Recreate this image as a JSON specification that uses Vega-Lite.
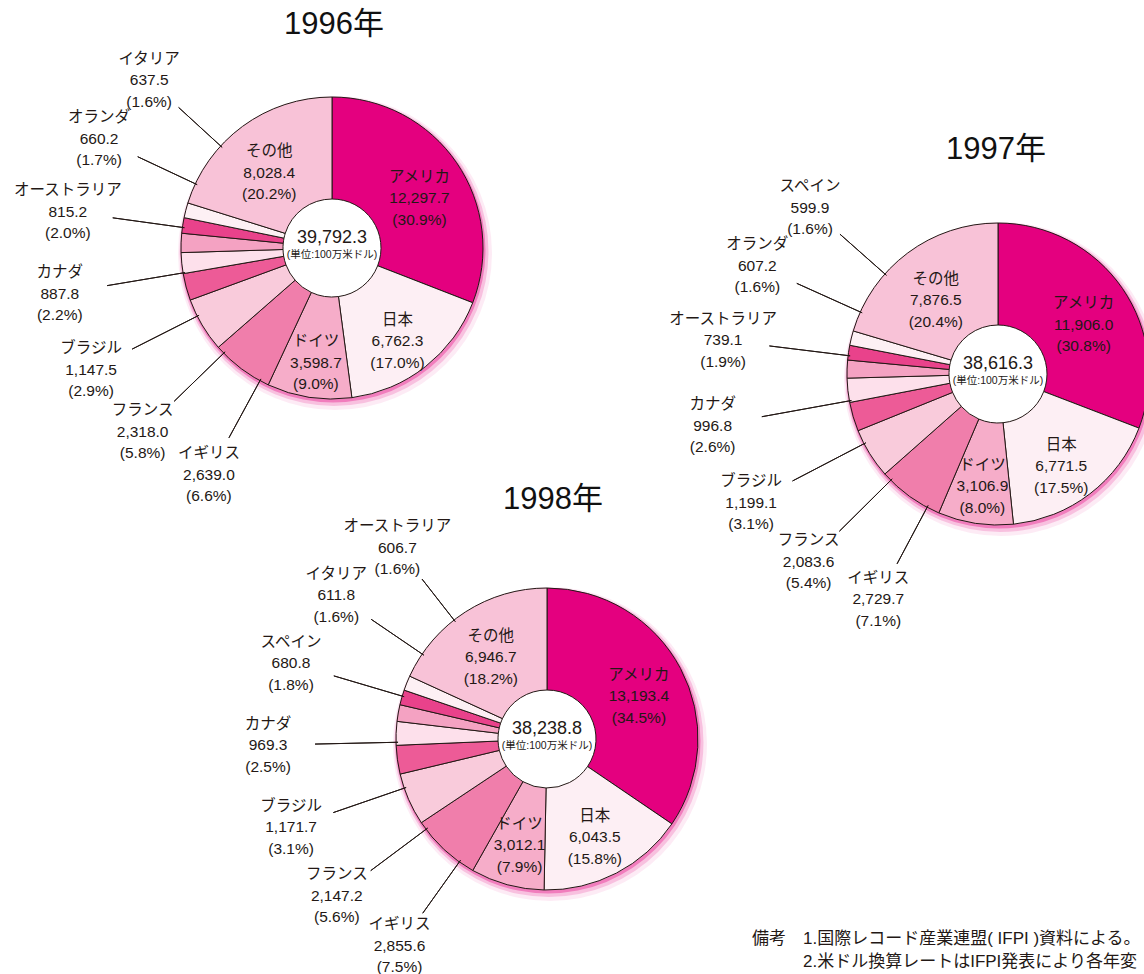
{
  "$schema": "https://vega.github.io/schema/vega-lite/v6.json",
  "width": 1144,
  "height": 974,
  "padding": 0,
  "autosize": {"type": "fit", "contains": "padding"},
  "background": "white",
  "config": {"view": {"stroke": null}},
  "datasets": {
    "shares": [
      {"year": 1996, "country": "アメリカ", "value": 12297.7, "share": 30.9},
      {"year": 1996, "country": "日本", "value": 6762.3, "share": 17.0},
      {"year": 1996, "country": "ドイツ", "value": 3598.7, "share": 9.0},
      {"year": 1996, "country": "イギリス", "value": 2639.0, "share": 6.6},
      {"year": 1996, "country": "フランス", "value": 2318.0, "share": 5.8},
      {"year": 1996, "country": "ブラジル", "value": 1147.5, "share": 2.9},
      {"year": 1996, "country": "カナダ", "value": 887.8, "share": 2.2},
      {"year": 1996, "country": "オーストラリア", "value": 815.2, "share": 2.0},
      {"year": 1996, "country": "オランダ", "value": 660.2, "share": 1.7},
      {"year": 1996, "country": "イタリア", "value": 637.5, "share": 1.6},
      {"year": 1996, "country": "その他", "value": 8028.4, "share": 20.2},
      {"year": 1997, "country": "アメリカ", "value": 11906.0, "share": 30.8},
      {"year": 1997, "country": "日本", "value": 6771.5, "share": 17.5},
      {"year": 1997, "country": "ドイツ", "value": 3106.9, "share": 8.0},
      {"year": 1997, "country": "イギリス", "value": 2729.7, "share": 7.1},
      {"year": 1997, "country": "フランス", "value": 2083.6, "share": 5.4},
      {"year": 1997, "country": "ブラジル", "value": 1199.1, "share": 3.1},
      {"year": 1997, "country": "カナダ", "value": 996.8, "share": 2.6},
      {"year": 1997, "country": "オーストラリア", "value": 739.1, "share": 1.9},
      {"year": 1997, "country": "オランダ", "value": 607.2, "share": 1.6},
      {"year": 1997, "country": "スペイン", "value": 599.9, "share": 1.6},
      {"year": 1997, "country": "その他", "value": 7876.5, "share": 20.4},
      {"year": 1998, "country": "アメリカ", "value": 13193.4, "share": 34.5},
      {"year": 1998, "country": "日本", "value": 6043.5, "share": 15.8},
      {"year": 1998, "country": "ドイツ", "value": 3012.1, "share": 7.9},
      {"year": 1998, "country": "イギリス", "value": 2855.6, "share": 7.5},
      {"year": 1998, "country": "フランス", "value": 2147.2, "share": 5.6},
      {"year": 1998, "country": "ブラジル", "value": 1171.7, "share": 3.1},
      {"year": 1998, "country": "カナダ", "value": 969.3, "share": 2.5},
      {"year": 1998, "country": "スペイン", "value": 680.8, "share": 1.8},
      {"year": 1998, "country": "イタリア", "value": 611.8, "share": 1.6},
      {"year": 1998, "country": "オーストラリア", "value": 606.7, "share": 1.6},
      {"year": 1998, "country": "その他", "value": 6946.7, "share": 18.2}
    ],
    "years": [
      {"year": 1996, "title": "1996年", "total": 39792.3},
      {"year": 1997, "title": "1997年", "total": 38616.3},
      {"year": 1998, "title": "1998年", "total": 38238.8}
    ],
    "notes": [
      {"line": 1, "col": 1, "text": "備考"},
      {"line": 1, "col": 2, "text": "1.国際レコード産業連盟( IFPI )資料による。"},
      {"line": 2, "col": 2, "text": "2.米ドル換算レートはIFPI発表により各年変"}
    ]
  },
  "resolve": {"scale": {"x": "independent", "y": "independent", "theta": "independent", "radius": "independent"}},
  "layer": [
    {
      "data": {"name": "years"},
      "mark": {"type": "arc", "theta": 0, "theta2": 6.2832, "radius": 157, "radius2": 120, "xOffset": 3, "yOffset": 5, "fill": "#e4007f", "opacity": 0.08},
      "encoding": {
        "x": {"field": "year", "type": "quantitative", "axis": null, "scale": {"domain": [1996, 1997, 1998], "range": [332, 998, 547], "zero": false, "nice": false}},
        "y": {"field": "year", "type": "quantitative", "axis": null, "scale": {"domain": [1996, 1997, 1998], "range": [248, 374, 739], "zero": false, "nice": false}}
      }
    },
    {
      "data": {"name": "years"},
      "mark": {"type": "arc", "theta": 0, "theta2": 6.2832, "radius": 154.5, "radius2": 120, "xOffset": 2, "yOffset": 3.5, "fill": "#e4007f", "opacity": 0.18},
      "encoding": {
        "x": {"field": "year", "type": "quantitative", "axis": null, "scale": {"domain": [1996, 1997, 1998], "range": [332, 998, 547], "zero": false, "nice": false}},
        "y": {"field": "year", "type": "quantitative", "axis": null, "scale": {"domain": [1996, 1997, 1998], "range": [248, 374, 739], "zero": false, "nice": false}}
      }
    },
    {
      "data": {"name": "years"},
      "mark": {"type": "arc", "theta": 0, "theta2": 6.2832, "radius": 152.5, "radius2": 120, "xOffset": 1, "yOffset": 2, "fill": "#e4007f", "opacity": 0.35},
      "encoding": {
        "x": {"field": "year", "type": "quantitative", "axis": null, "scale": {"domain": [1996, 1997, 1998], "range": [332, 998, 547], "zero": false, "nice": false}},
        "y": {"field": "year", "type": "quantitative", "axis": null, "scale": {"domain": [1996, 1997, 1998], "range": [248, 374, 739], "zero": false, "nice": false}}
      }
    },

    {
      "data": {"name": "shares"},
      "transform": [{"filter": {"field": "year", "equal": 1996}}, {"window": [{"op": "row_number", "as": "rank"}]}],
      "mark": {"type": "arc", "radius": 151, "radius2": 49, "stroke": "#231815", "strokeWidth": 1},
      "encoding": {
        "x": {"field": "year", "type": "quantitative", "axis": null, "scale": {"domain": [1996, 1997, 1998], "range": [332, 998, 547], "zero": false, "nice": false}},
        "y": {"field": "year", "type": "quantitative", "axis": null, "scale": {"domain": [1996, 1997, 1998], "range": [248, 374, 739], "zero": false, "nice": false}},
        "theta": {"field": "value", "type": "quantitative", "stack": "normalize"},
        "order": {"field": "rank", "type": "quantitative"},
        "fill": {"field": "rank", "type": "ordinal", "legend": null, "scale": {"domain": [1,2,3,4,5,6,7,8,9,10,11], "range": ["#e4007f","#fdeff4","#f6adc9","#f07eab","#f9cbdb","#ed5b97","#fde0eb","#f4a2c2","#e9428b","#fdf0f4","#f8c2d7"]}}
      }
    },
    {
      "data": {"name": "shares"},
      "transform": [{"filter": {"field": "year", "equal": 1997}}, {"window": [{"op": "row_number", "as": "rank"}]}],
      "mark": {"type": "arc", "radius": 151, "radius2": 49, "stroke": "#231815", "strokeWidth": 1},
      "encoding": {
        "x": {"field": "year", "type": "quantitative", "axis": null, "scale": {"domain": [1996, 1997, 1998], "range": [332, 998, 547], "zero": false, "nice": false}},
        "y": {"field": "year", "type": "quantitative", "axis": null, "scale": {"domain": [1996, 1997, 1998], "range": [248, 374, 739], "zero": false, "nice": false}},
        "theta": {"field": "value", "type": "quantitative", "stack": "normalize"},
        "order": {"field": "rank", "type": "quantitative"},
        "fill": {"field": "rank", "type": "ordinal", "legend": null, "scale": {"domain": [1,2,3,4,5,6,7,8,9,10,11], "range": ["#e4007f","#fdeff4","#f6adc9","#f07eab","#f9cbdb","#ed5b97","#fde0eb","#f4a2c2","#e9428b","#fdf0f4","#f8c2d7"]}}
      }
    },
    {
      "data": {"name": "shares"},
      "transform": [{"filter": {"field": "year", "equal": 1998}}, {"window": [{"op": "row_number", "as": "rank"}]}],
      "mark": {"type": "arc", "radius": 151, "radius2": 49, "stroke": "#231815", "strokeWidth": 1},
      "encoding": {
        "x": {"field": "year", "type": "quantitative", "axis": null, "scale": {"domain": [1996, 1997, 1998], "range": [332, 998, 547], "zero": false, "nice": false}},
        "y": {"field": "year", "type": "quantitative", "axis": null, "scale": {"domain": [1996, 1997, 1998], "range": [248, 374, 739], "zero": false, "nice": false}},
        "theta": {"field": "value", "type": "quantitative", "stack": "normalize"},
        "order": {"field": "rank", "type": "quantitative"},
        "fill": {"field": "rank", "type": "ordinal", "legend": null, "scale": {"domain": [1,2,3,4,5,6,7,8,9,10,11], "range": ["#e4007f","#fdeff4","#f6adc9","#f07eab","#f9cbdb","#ed5b97","#fde0eb","#f4a2c2","#e9428b","#fdf0f4","#f8c2d7"]}}
      }
    },

    {
      "data": {"name": "shares"},
      "transform": [{"filter": {"field": "year", "equal": 1996}}, {"window": [{"op": "row_number", "as": "rank"}]}, {"filter": "datum.rank >= 4 && datum.rank <= 10"}],
      "mark": {"type": "arc", "radius2": 149, "filled": false, "stroke": "#231815", "strokeWidth": 1},
      "encoding": {
        "x": {"field": "year", "type": "quantitative", "axis": null, "scale": {"domain": [1996, 1997, 1998], "range": [332, 998, 547], "zero": false, "nice": false}},
        "y": {"field": "year", "type": "quantitative", "axis": null, "scale": {"domain": [1996, 1997, 1998], "range": [248, 374, 739], "zero": false, "nice": false}},
        "theta": {"field": "rank", "type": "quantitative", "stack": null, "scale": {"domain": [4, 10], "range": [3.639, 5.4542], "zero": false, "nice": false}},
        "theta2": {"field": "rank"},
        "radius": {"field": "rank", "type": "quantitative", "scale": {"type": "linear", "domain": [4, 7, 10], "range": [216, 228, 208], "zero": false, "nice": false}}
      }
    },
    {
      "data": {"name": "shares"},
      "transform": [{"filter": {"field": "year", "equal": 1997}}, {"window": [{"op": "row_number", "as": "rank"}]}, {"filter": "datum.rank >= 4 && datum.rank <= 10"}],
      "mark": {"type": "arc", "radius2": 149, "filled": false, "stroke": "#231815", "strokeWidth": 1},
      "encoding": {
        "x": {"field": "year", "type": "quantitative", "axis": null, "scale": {"domain": [1996, 1997, 1998], "range": [332, 998, 547], "zero": false, "nice": false}},
        "y": {"field": "year", "type": "quantitative", "axis": null, "scale": {"domain": [1996, 1997, 1998], "range": [248, 374, 739], "zero": false, "nice": false}},
        "theta": {"field": "rank", "type": "quantitative", "stack": null, "scale": {"domain": [4, 10], "range": [3.6303, 5.4367], "zero": false, "nice": false}},
        "theta2": {"field": "rank"},
        "radius": {"field": "rank", "type": "quantitative", "scale": {"type": "linear", "domain": [4, 7, 10], "range": [215, 240, 211], "zero": false, "nice": false}}
      }
    },
    {
      "data": {"name": "shares"},
      "transform": [{"filter": {"field": "year", "equal": 1998}}, {"window": [{"op": "row_number", "as": "rank"}]}, {"filter": "datum.rank >= 4 && datum.rank <= 10"}],
      "mark": {"type": "arc", "radius2": 149, "filled": false, "stroke": "#231815", "strokeWidth": 1},
      "encoding": {
        "x": {"field": "year", "type": "quantitative", "axis": null, "scale": {"domain": [1996, 1997, 1998], "range": [332, 998, 547], "zero": false, "nice": false}},
        "y": {"field": "year", "type": "quantitative", "axis": null, "scale": {"domain": [1996, 1997, 1998], "range": [248, 374, 739], "zero": false, "nice": false}},
        "theta": {"field": "rank", "type": "quantitative", "stack": null, "scale": {"domain": [4, 10], "range": [3.7612, 5.6199], "zero": false, "nice": false}},
        "theta2": {"field": "rank"},
        "radius": {"field": "rank", "type": "quantitative", "scale": {"type": "linear", "domain": [4, 7, 10], "range": [214, 232, 203], "zero": false, "nice": false}}
      }
    },

    {
      "data": {"name": "shares"},
      "transform": [{"filter": {"field": "year", "equal": 1996}}, {"window": [{"op": "row_number", "as": "rank"}]}],
      "mark": {"type": "text", "radius": 106, "dy": -11.5, "fontSize": 15.5, "lineHeight": 21.5, "font": "Liberation Sans, Noto Sans CJK JP", "color": "#231815", "text": {"expr": "[datum.country, format(datum.value, ',.1f'), '(' + format(datum.share, '.1f') + '%)']"}},
      "encoding": {
        "x": {"field": "year", "type": "quantitative", "axis": null, "scale": {"domain": [1996, 1997, 1998], "range": [332, 998, 547], "zero": false, "nice": false}},
        "y": {"field": "year", "type": "quantitative", "axis": null, "scale": {"domain": [1996, 1997, 1998], "range": [248, 374, 739], "zero": false, "nice": false}},
        "theta": {"field": "value", "type": "quantitative", "stack": "normalize"},
        "order": {"field": "rank", "type": "quantitative"},
        "detail": {"field": "rank", "type": "nominal"},
        "opacity": {"condition": {"test": "datum.rank <= 3 || datum.rank == 11", "value": 1}, "value": 0}
      }
    },
    {
      "data": {"name": "shares"},
      "transform": [{"filter": {"field": "year", "equal": 1997}}, {"window": [{"op": "row_number", "as": "rank"}]}],
      "mark": {"type": "text", "radius": 104, "dy": -12, "fontSize": 15.5, "lineHeight": 21.5, "font": "Liberation Sans, Noto Sans CJK JP", "color": "#231815", "text": {"expr": "[datum.country, format(datum.value, ',.1f'), '(' + format(datum.share, '.1f') + '%)']"}},
      "encoding": {
        "x": {"field": "year", "type": "quantitative", "axis": null, "scale": {"domain": [1996, 1997, 1998], "range": [332, 998, 547], "zero": false, "nice": false}},
        "y": {"field": "year", "type": "quantitative", "axis": null, "scale": {"domain": [1996, 1997, 1998], "range": [248, 374, 739], "zero": false, "nice": false}},
        "theta": {"field": "value", "type": "quantitative", "stack": "normalize"},
        "order": {"field": "rank", "type": "quantitative"},
        "detail": {"field": "rank", "type": "nominal"},
        "opacity": {"condition": {"test": "datum.rank <= 3 || datum.rank == 11", "value": 1}, "value": 0}
      }
    },
    {
      "data": {"name": "shares"},
      "transform": [{"filter": {"field": "year", "equal": 1998}}, {"window": [{"op": "row_number", "as": "rank"}]}],
      "mark": {"type": "text", "radius": 104, "dy": -15.5, "fontSize": 15.5, "lineHeight": 21.5, "font": "Liberation Sans, Noto Sans CJK JP", "color": "#231815", "text": {"expr": "[datum.country, format(datum.value, ',.1f'), '(' + format(datum.share, '.1f') + '%)']"}},
      "encoding": {
        "x": {"field": "year", "type": "quantitative", "axis": null, "scale": {"domain": [1996, 1997, 1998], "range": [332, 998, 547], "zero": false, "nice": false}},
        "y": {"field": "year", "type": "quantitative", "axis": null, "scale": {"domain": [1996, 1997, 1998], "range": [248, 374, 739], "zero": false, "nice": false}},
        "theta": {"field": "value", "type": "quantitative", "stack": "normalize"},
        "order": {"field": "rank", "type": "quantitative"},
        "detail": {"field": "rank", "type": "nominal"},
        "opacity": {"condition": {"test": "datum.rank <= 3 || datum.rank == 11", "value": 1}, "value": 0}
      }
    },

    {
      "data": {"name": "shares"},
      "transform": [{"filter": {"field": "year", "equal": 1996}}, {"window": [{"op": "row_number", "as": "rank"}]}, {"filter": "datum.rank >= 4 && datum.rank <= 10"}],
      "mark": {"type": "text", "dy": -21.5, "fontSize": 15.5, "lineHeight": 21.5, "font": "Liberation Sans, Noto Sans CJK JP", "color": "#231815", "text": {"expr": "[datum.country, format(datum.value, ',.1f'), '(' + format(datum.share, '.1f') + '%)']"}},
      "encoding": {
        "x": {"field": "year", "type": "quantitative", "axis": null, "scale": {"domain": [1996, 1997, 1998], "range": [332, 998, 547], "zero": false, "nice": false}},
        "y": {"field": "year", "type": "quantitative", "axis": null, "scale": {"domain": [1996, 1997, 1998], "range": [248, 374, 739], "zero": false, "nice": false}},
        "theta": {"field": "rank", "type": "quantitative", "stack": null, "scale": {"domain": [4, 10], "range": [3.639, 5.4542], "zero": false, "nice": false}},
        "radius": {"field": "rank", "type": "quantitative", "scale": {"type": "linear", "domain": [4, 7, 10], "range": [258, 276, 248], "zero": false, "nice": false}}
      }
    },
    {
      "data": {"name": "shares"},
      "transform": [{"filter": {"field": "year", "equal": 1997}}, {"window": [{"op": "row_number", "as": "rank"}]}, {"filter": "datum.rank >= 4 && datum.rank <= 10"}],
      "mark": {"type": "text", "dy": -21.5, "fontSize": 15.5, "lineHeight": 21.5, "font": "Liberation Sans, Noto Sans CJK JP", "color": "#231815", "text": {"expr": "[datum.country, format(datum.value, ',.1f'), '(' + format(datum.share, '.1f') + '%)']"}},
      "encoding": {
        "x": {"field": "year", "type": "quantitative", "axis": null, "scale": {"domain": [1996, 1997, 1998], "range": [332, 998, 547], "zero": false, "nice": false}},
        "y": {"field": "year", "type": "quantitative", "axis": null, "scale": {"domain": [1996, 1997, 1998], "range": [248, 374, 739], "zero": false, "nice": false}},
        "theta": {"field": "rank", "type": "quantitative", "stack": null, "scale": {"domain": [4, 10], "range": [3.6303, 5.4367], "zero": false, "nice": false}},
        "radius": {"field": "rank", "type": "quantitative", "scale": {"type": "linear", "domain": [4, 7, 10], "range": [255, 290, 251], "zero": false, "nice": false}}
      }
    },
    {
      "data": {"name": "shares"},
      "transform": [{"filter": {"field": "year", "equal": 1998}}, {"window": [{"op": "row_number", "as": "rank"}]}, {"filter": "datum.rank >= 4 && datum.rank <= 10"}],
      "mark": {"type": "text", "dy": -21.5, "fontSize": 15.5, "lineHeight": 21.5, "font": "Liberation Sans, Noto Sans CJK JP", "color": "#231815", "text": {"expr": "[datum.country, format(datum.value, ',.1f'), '(' + format(datum.share, '.1f') + '%)']"}},
      "encoding": {
        "x": {"field": "year", "type": "quantitative", "axis": null, "scale": {"domain": [1996, 1997, 1998], "range": [332, 998, 547], "zero": false, "nice": false}},
        "y": {"field": "year", "type": "quantitative", "axis": null, "scale": {"domain": [1996, 1997, 1998], "range": [248, 374, 739], "zero": false, "nice": false}},
        "theta": {"field": "rank", "type": "quantitative", "stack": null, "scale": {"domain": [4, 10], "range": [3.7612, 5.6199], "zero": false, "nice": false}},
        "radius": {"field": "rank", "type": "quantitative", "scale": {"type": "linear", "domain": [4, 7, 10], "range": [254, 279, 243], "zero": false, "nice": false}}
      }
    },

    {
      "data": {"name": "years"},
      "mark": {"type": "text", "dy": -10, "fontSize": 18, "font": "Liberation Sans, Noto Sans CJK JP", "color": "#231815"},
      "encoding": {
        "x": {"field": "year", "type": "quantitative", "axis": null, "scale": {"domain": [1996, 1997, 1998], "range": [332, 998, 547], "zero": false, "nice": false}},
        "y": {"field": "year", "type": "quantitative", "axis": null, "scale": {"domain": [1996, 1997, 1998], "range": [248, 374, 739], "zero": false, "nice": false}},
        "text": {"field": "total", "type": "quantitative", "format": ",.1f"}
      }
    },
    {
      "data": {"name": "years"},
      "mark": {"type": "text", "dy": 7, "fontSize": 10.5, "font": "Liberation Sans, Noto Sans CJK JP", "color": "#231815", "text": "(単位:100万米ドル)"},
      "encoding": {
        "x": {"field": "year", "type": "quantitative", "axis": null, "scale": {"domain": [1996, 1997, 1998], "range": [332, 998, 547], "zero": false, "nice": false}},
        "y": {"field": "year", "type": "quantitative", "axis": null, "scale": {"domain": [1996, 1997, 1998], "range": [248, 374, 739], "zero": false, "nice": false}}
      }
    },
    {
      "data": {"name": "years"},
      "mark": {"type": "text", "fontSize": 31, "font": "Liberation Sans, Noto Sans CJK JP", "color": "#111111"},
      "encoding": {
        "x": {"field": "year", "type": "quantitative", "axis": null, "scale": {"domain": [1996, 1997, 1998], "range": [334, 996, 553], "zero": false, "nice": false}},
        "y": {"field": "year", "type": "quantitative", "axis": null, "scale": {"domain": [1996, 1997, 1998], "range": [25, 150, 500], "zero": false, "nice": false}},
        "text": {"field": "title", "type": "nominal"}
      }
    },
    {
      "data": {"name": "notes"},
      "mark": {"type": "text", "align": "left", "fontSize": 17, "font": "Liberation Sans, Noto Sans CJK JP", "color": "#231815"},
      "encoding": {
        "x": {"field": "col", "type": "quantitative", "axis": null, "scale": {"domain": [1, 2], "range": [752, 803], "zero": false, "nice": false}},
        "y": {"field": "line", "type": "quantitative", "axis": null, "scale": {"domain": [1, 2], "range": [939, 962], "zero": false, "nice": false}},
        "text": {"field": "text", "type": "nominal"}
      }
    }
  ]
}
